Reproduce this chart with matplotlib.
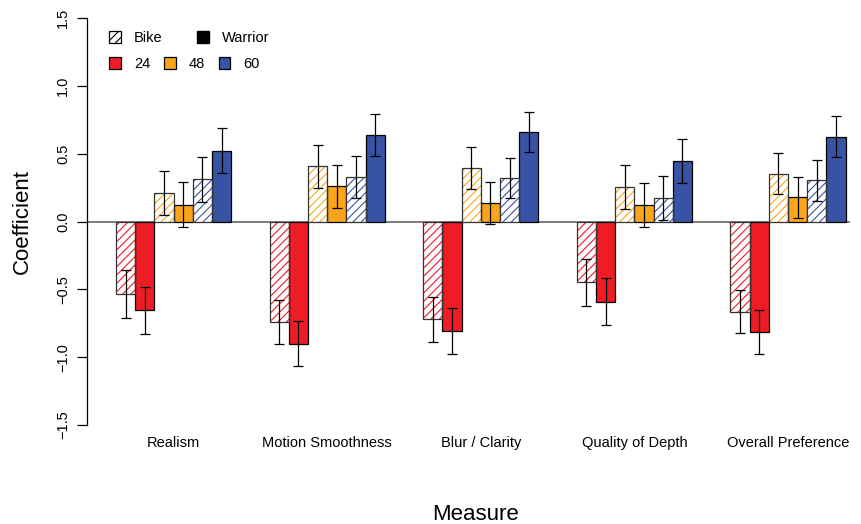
import numpy as np
import matplotlib
matplotlib.use('Agg')
import matplotlib.pyplot as plt
from matplotlib.patches import Patch

#------------------------------------------------------------------------------
# Data
#------------------------------------------------------------------------------

measures = ['Realism', 'Motion Smoothness', 'Blur / Clarity',
            'Quality of Depth', 'Overall Preference']

bike_24    = [-0.535, -0.740, -0.720, -0.448, -0.665]
warrior_24 = [-0.655, -0.900, -0.806, -0.590, -0.813]
bike_48    = [ 0.210,  0.407,  0.393,  0.256,  0.353]
warrior_48 = [ 0.125,  0.260,  0.137,  0.125,  0.178]
bike_60    = [ 0.310,  0.328,  0.319,  0.175,  0.304]
warrior_60 = [ 0.520,  0.636,  0.660,  0.443,  0.626]

se_bike_24    = [0.175, 0.165, 0.166, 0.172, 0.160]
se_warrior_24 = [0.175, 0.165, 0.168, 0.173, 0.160]
se_bike_48    = [0.165, 0.158, 0.153, 0.162, 0.152]
se_warrior_48 = [0.165, 0.158, 0.152, 0.162, 0.151]
se_bike_60    = [0.167, 0.155, 0.148, 0.162, 0.153]
se_warrior_60 = [0.166, 0.155, 0.148, 0.162, 0.153]

fps_labels = ['24', '48', '60']
y_ticks = [-1.5, -1.0, -0.5, 0.0, 0.5, 1.0, 1.5]

#------------------------------------------------------------------------------
# Style
#------------------------------------------------------------------------------

plt.rcParams['font.family'] = ['Liberation Sans', 'DejaVu Sans']
plt.rcParams['hatch.linewidth'] = 0.8

col_24 = '#EE1C25'
col_48 = '#F9A51B'
col_60 = '#3953A4'

series = [(bike_24,    se_bike_24,    col_24, True),
          (warrior_24, se_warrior_24, col_24, False),
          (bike_48,    se_bike_48,    col_48, True),
          (warrior_48, se_warrior_48, col_48, False),
          (bike_60,    se_bike_60,    col_60, True),
          (warrior_60, se_warrior_60, col_60, False)]

W, H = 862, 524
fig = plt.figure(figsize=(W / 100, H / 100), dpi=100)
ax = fig.add_axes([87 / W, 1 - 425 / H, (850 - 87) / W, (425 - 18) / H])

group_step = 8          # 6 bars + 2 bar widths gap
x_groups = np.arange(len(measures)) * group_step

for i, (vals, errs, col, hatched) in enumerate(series):
    xs = x_groups + i + 0.5
    if hatched:
        ax.bar(xs, vals, width=1.0, facecolor='white', edgecolor=col,
               hatch='////', linewidth=0, zorder=2)
        ax.bar(xs, vals, width=1.0, facecolor='none', edgecolor='#333333',
               linewidth=0.9, zorder=3)
    else:
        ax.bar(xs, vals, width=1.0, facecolor=col, edgecolor='black',
               linewidth=0.9, zorder=2)
    ax.errorbar(xs, vals, yerr=errs, fmt='none', ecolor='black',
                elinewidth=0.9, capsize=3.6, capthick=0.9, zorder=4)

ax.axhline(0, color='#666666', linewidth=1.2, zorder=1)

ax.set_xlim(-1.51, 38.23)
ax.set_ylim(-1.5, 1.5)

for s in ['top', 'right', 'bottom']:
    ax.spines[s].set_visible(False)
ax.spines['left'].set_bounds(-1.5, 1.5)
ax.spines['left'].set_linewidth(0.9)

ax.set_yticks(y_ticks)
ax.set_yticklabels([('%.1f' % v).replace('-', '\u2212') for v in y_ticks])
for lab in ax.get_yticklabels():
    lab.set_rotation(90)
    lab.set_va('center')
ax.tick_params(axis='y', length=7, width=0.9, pad=5, labelsize=10.5)

ax.set_xticks(x_groups + 3)
ax.set_xticklabels(measures)
ax.tick_params(axis='x', length=0, pad=8, labelsize=10.5)

fig.text(22 / W, 1 - 221 / H, 'Coefficient', rotation=90, fontsize=16,
         ha='center', va='center')
fig.text(476 / W, 1 - 515 / H, 'Measure', fontsize=16,
         ha='center', va='center')

# legends: stimulus (hatch) and frame rate (colour)
fig.legend([Patch(facecolor='white', edgecolor='black', hatch='////', linewidth=0.9),
            Patch(facecolor='black', edgecolor='black')],
           ['Bike', 'Warrior'], ncol=2, loc='upper left',
           bbox_to_anchor=(109 / W, 1 - 31 / H), frameon=False,
           fontsize=10.5, handlelength=0.8, handleheight=0.8,
           handletextpad=0.9, columnspacing=2.4, borderpad=0,
           borderaxespad=0)
fig.legend([Patch(facecolor=c, edgecolor='black', linewidth=0.9)
            for c in [col_24, col_48, col_60]],
           fps_labels, ncol=3, loc='upper left',
           bbox_to_anchor=(109 / W, 1 - 57 / H), frameon=False,
           fontsize=10.5, handlelength=0.8, handleheight=0.8,
           handletextpad=0.9, columnspacing=0.95, borderpad=0,
           borderaxespad=0)

plt.savefig('out.png', dpi=100)
